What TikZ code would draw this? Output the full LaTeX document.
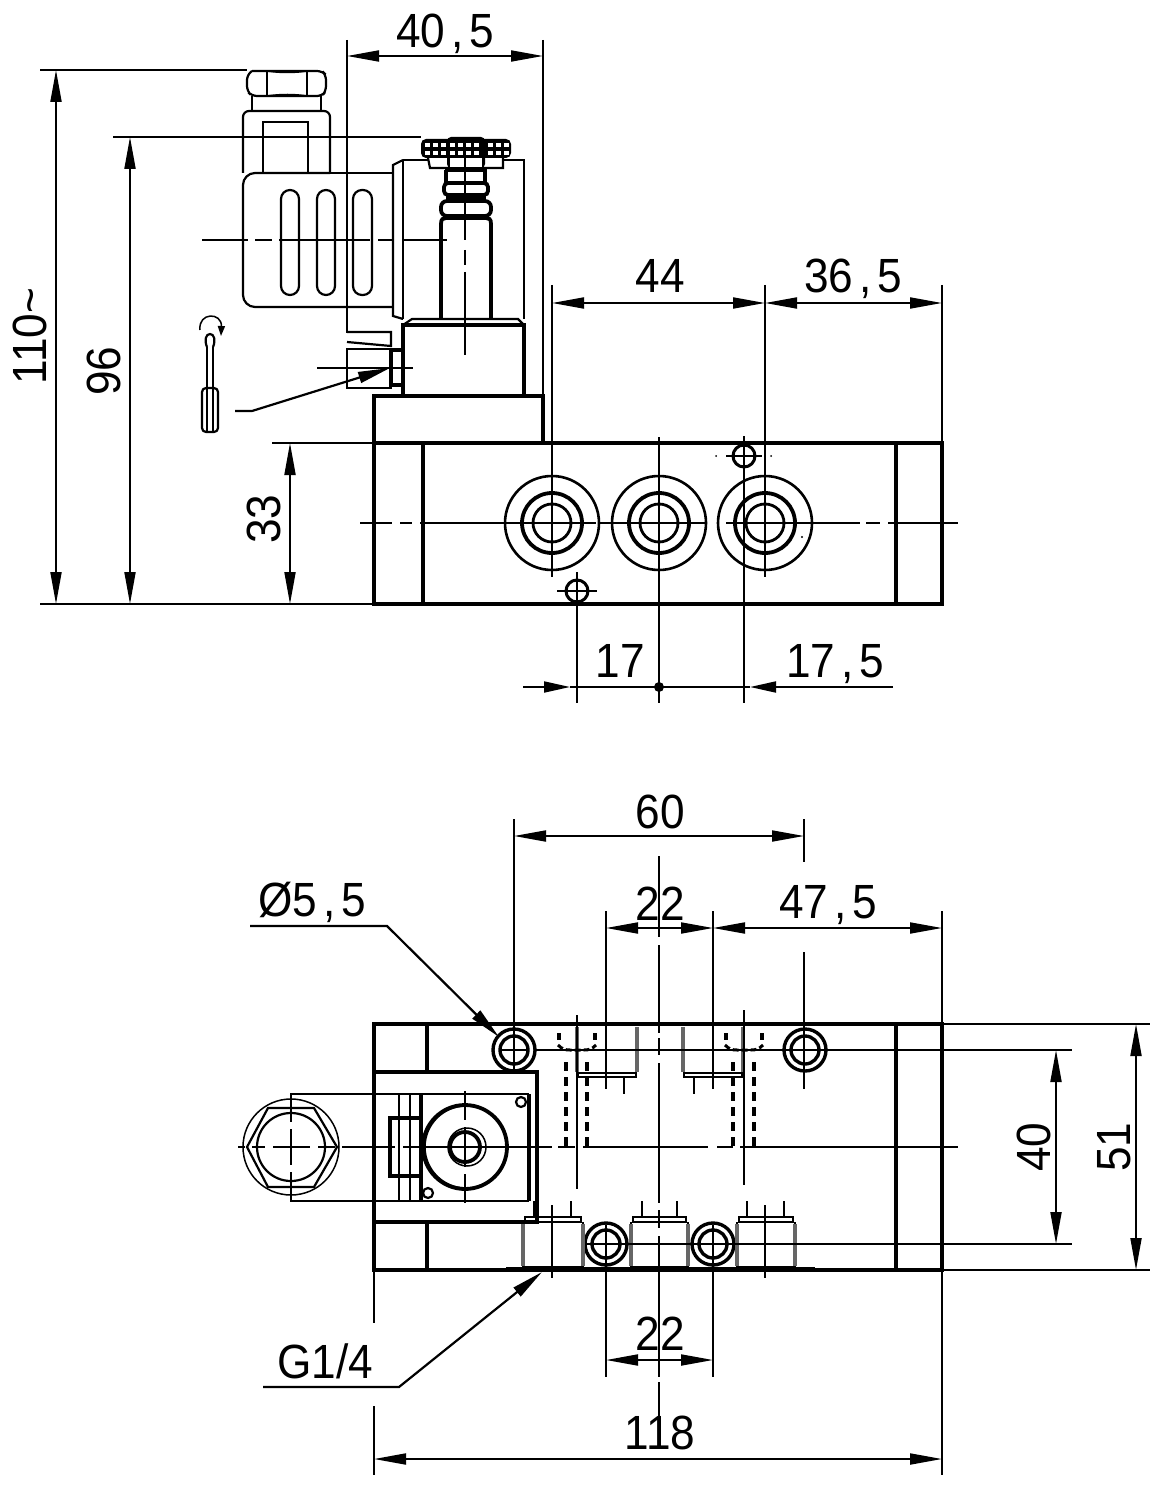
\documentclass[tikz,border=0pt]{standalone}
\usepackage{fontspec}
\setmainfont[FakeStretch=0.92]{Liberation Sans}
\usetikzlibrary{arrows.meta}
\tikzset{
 thk/.style={line width=1.9pt,line join=miter},
 med/.style={line width=1.1pt},
 thn/.style={line width=0.75pt},
 dimln/.style={line width=0.95pt},
 ctr/.style={line width=0.85pt},
 dsh/.style={line width=1.9pt,dash pattern=on 4.5pt off 3pt},
 gry/.style={line width=1.6pt,black!60},
 lbl/.style={inner sep=0pt,anchor=base,font=\fontsize{24pt}{24pt}\selectfont},
 >={Triangle[length=16pt,width=5.5pt]},
 sm/.style={>={Triangle[length=13pt,width=5.5pt]}}
}
\newcommand{\cmm}{\kern3pt,\kern3pt}
\begin{document}
\begin{tikzpicture}[x=0.5pt,y=-0.5pt]
\useasboundingbox (0,0) rectangle (1164,1492);
%% ---------- FRONT VIEW ----------
% body
\draw[thk] (374,443) rectangle (942,604);
\draw[thk] (423,443) -- (423,604) (896,443) -- (896,604);
\draw[thk] (374,443) -- (374,396) -- (543,396) -- (543,443);
% solenoid base
\draw[thk] (403,396) -- (403,325) -- (524,325) -- (524,396);
\draw[med] (403,325) -- (412,319) -- (518,319) -- (524,325);
% coil
\draw[med] (403,319) -- (403,160) (403,160) -- (524,160) -- (524,319);
\draw[med] (403,160) -- (393,165) -- (393,316) -- (403,319);
% tube
\draw[thk] (441,319) -- (441,224) .. controls (441,219) and (443,218) .. (446,218) -- (486,218) .. controls (489,218) and (491,219) .. (491,224) -- (491,319);
\draw[thk,rounded corners=3pt,fill=white] (441,201) rectangle (491,216);
\draw[thk,rounded corners=2pt,fill=white] (444,183) rectangle (488,195);
\draw[thk] (446,195) -- (486,195) (446,198) -- (486,198);
\draw[thk] (446,183) -- (446,170) (485,183) -- (485,170);
% knob
\draw[med,fill=white] (428,158) -- (430,168) -- (503,168) -- (503,158);
\draw[thk] (447,168) -- (447,170) (485,168) -- (485,170) (447,170) -- (485,170);
\fill[black,rounded corners=2.5pt] (421,139) rectangle (511,158);
\fill[black,rounded corners=2pt] (447,137) rectangle (485,168);
\fill[white] (450,158) rectangle (482,167);
\foreach \xx in {425,433,441,450,458,466,474,488,496,504}
  \foreach \yy in {143,151} {\fill[white] (\xx,\yy) rectangle +(5,4.5);}
% connector
\draw[med,rounded corners=6pt] (330,173) -- (243,173) -- (243,307) -- (393,307);
\draw[med] (330,173) -- (393,173);
\draw[med,rounded corners=3pt] (243,173) -- (243,111) -- (330,111) -- (330,173);
\draw[med] (263,173) -- (263,122) -- (308,122) -- (308,173);
\draw[med] (252,111) -- (252,96) (321,111) -- (321,96);
\draw[med,rounded corners=2.5pt] (252,71) -- (322,71) -- (326,75) -- (326,91) -- (322,96) -- (252,96) -- (247,91) -- (247,75) -- (252,71);
\draw[med] (267,71) -- (267,96) (307,71) -- (307,96);
\draw[thn] (267,71) .. controls (280,73) and (295,73) .. (307,71);
\draw[thn] (267,96) .. controls (280,94) and (295,94) .. (307,96);
\foreach \xa/\xb in {281/299,317/335,353/372}
  \draw[med,rounded corners=4.5pt] (\xa,190) rectangle (\xb,295);
% set screw
\draw[med] (347,332) -- (391,332) -- (391,346) -- (347,342);
\draw[med] (347,349) rectangle (391,388);
\draw[thk] (391,350) rectangle (403,385);
% center lines
\draw[ctr] (202,240) -- (248,240) (255,240) -- (272,240) (279,240) -- (370,240) (378,240) -- (392,240) (402,240) -- (447,240);
\draw[ctr] (465,140) -- (465,240) (465,250) -- (465,265) (465,272) -- (465,355);
\draw[ctr] (317,368) -- (413,368);
% screwdriver
\draw[med,rounded corners=2pt] (202,388) rectangle (218,432);
\draw[thn] (207,388) -- (207,432) (213,388) -- (213,432);
\draw[med] (207,388) -- (207,347) (213,388) -- (213,347);
\draw[med] (207,347) .. controls (204,340) and (206,334) .. (210,334) .. controls (214,334) and (216,340) .. (213,347);
\draw[thn,-{Triangle[length=5pt,width=3.5pt]}] (200,330) .. controls (198,312) and (222,312) .. (221,336);
\draw[med,->] (235,411) -- (252,411) -- (390,368);
% holes
\foreach \xx in {552,659,765} {
  \draw[line width=1.3pt] (\xx,523) circle (47);
  \draw[line width=1.9pt] (\xx,523) circle (30);
  \draw[line width=1.4pt] (\xx,523) circle (19);
}
\draw[line width=1.5pt] (577,591) circle (11);
\draw[line width=1.5pt] (744,456) circle (11);
\draw[ctr] (557,591) -- (597,591) (577,572) -- (577,703);
\draw[ctr] (726,456) -- (762,456) (744,436) -- (744,703);
\fill (716,456) circle (1) (771,456) circle (1);
\fill (802,537) circle (1.2);
\draw[ctr] (360,523) -- (392,523) (400,523) -- (412,523) (420,523) -- (596,523) (600,523) -- (706,523) (726,523) -- (860,523) (866,523) -- (880,523) (888,523) -- (958,523);
\draw[med] (552,285) -- (552,477);
\draw[ctr] (552,477) -- (552,577);
\draw[med] (659,437) -- (659,687);
\draw[ctr] (659,687) -- (659,703);
\draw[ctr] (765,285) -- (765,577);
\draw[ctr] (942,285) -- (942,443);
% dimensions front
\draw[dimln] (347,40) -- (347,333);
\draw[dimln] (543,40) -- (543,396);
\draw[dimln,<->] (347,56) -- (543,56);
\draw[dimln,<->] (552,303) -- (765,303);
\draw[dimln,<->] (765,303) -- (942,303);
\draw[dimln] (40,70) -- (247,70) (113,137) -- (421,137) (272,443) -- (374,443) (40,604) -- (374,604);
\draw[dimln,<->] (56,70) -- (56,604);
\draw[dimln,<->] (130,137) -- (130,604);
\draw[dimln,<->] (290,443) -- (290,604);
\draw[dimln,sm,->] (523,687) -- (570,687);
\draw[dimln,sm,->] (893,687) -- (750,687);
\draw[dimln] (570,687) -- (750,687);
\fill (659,687) circle (5);
\node[lbl] (t405) at (445,48) {40\cmm 5};
\node[lbl] (t44) at (660,293) {44};
\node[lbl] (t365) at (853,293) {36\cmm 5};
\node[lbl,rotate=90] (t110) at (46,336) {110\textasciitilde};
\node[lbl,rotate=90] (t96) at (120,371) {96};
\node[lbl,rotate=90] (t33) at (280,519) {33};
\node[lbl] (t17) at (620,677) {17};
\node[lbl] (t175) at (835,677) {17\cmm 5};
%% ---------- TOP VIEW ----------
\draw[thk] (374,1024) rectangle (942,1270);
\draw[thk] (896,1024) -- (896,1270);
\draw[thk] (427,1024) -- (427,1072) (427,1222) -- (427,1270);
% mounting holes
\foreach \xx/\yy in {514/1050,805/1050,606/1244,713/1244} {
  \draw[line width=1.7pt,fill=white] (\xx,\yy) circle (21);
  \draw[line width=1.7pt] (\xx,\yy) circle (14);
}
% solenoid plate
\draw[thk,fill=white] (374,1072) rectangle (537,1222);
\draw[med] (290,1094) -- (529,1094) (290,1201) -- (529,1201);
\draw[thk] (529,1094) -- (529,1201);
\draw[thk] (421,1094) -- (421,1201);
\draw[thn] (399,1094) -- (399,1201) (410,1094) -- (410,1201);
\draw[thk] (390,1118) rectangle (421,1176);
\draw[line width=1.9pt] (465,1147) circle (42);
\draw[thn] (466,1147) circle (41);
\draw[line width=1.9pt] (465,1147) circle (15);
\draw[thn] (467,1147) circle (19);
\draw[med,fill=white] (521,1102) circle (5);
\draw[med,fill=white] (428,1193) circle (5);
% connector nut
\draw[thn] (291,1147) circle (48);
\draw[med] (291,1147) circle (34);
\draw[med] (247,1147) -- (268,1108) -- (314,1108) -- (337,1147) -- (314,1187) -- (268,1187) -- cycle;
\draw[ctr] (291,1094) -- (291,1122) (291,1129) -- (291,1165) (291,1172) -- (291,1201);
\draw[ctr] (465,1091) -- (465,1120) (465,1127) -- (465,1167) (465,1174) -- (465,1203);
% center line
\draw[ctr] (238,1147) -- (245,1147) (252,1147) -- (265,1147) (273,1147) -- (310,1147) (318,1147) -- (335,1147) (342,1147) -- (395,1147) (403,1147) -- (552,1147) (558,1147) -- (575,1147) (583,1147) -- (708,1147) (717,1147) -- (733,1147) (740,1147) -- (958,1147);
% top ports
\foreach \xa/\xb in {577/637,683/743} {
  \draw[gry] (\xa,1027) -- (\xa,1072) (\xb,1027) -- (\xb,1072);
  \draw[med] (\xa,1073) -- (\xb,1073);
  \draw[med] (\xa+1,1073) -- (\xa+1,1077) -- (\xb-1,1077) -- (\xb-1,1073);
}
\draw[ctr] (624,1077) -- (624,1094) (694,1077) -- (694,1094);
\foreach \xo in {0,167} {
  \draw[dsh] ({559+\xo},1033) -- ({559+\xo},1040) ({595+\xo},1033) -- ({595+\xo},1040);
  \draw[line width=1.5pt,dash pattern=on 3pt off 1.5pt] ({558+\xo},1045) .. controls ({562+\xo},1049) and ({565+\xo},1050) .. ({570+\xo},1050) -- ({584+\xo},1050) .. controls ({589+\xo},1050) and ({592+\xo},1049) .. ({596+\xo},1045);
  \draw[dsh] ({566+\xo},1062) -- ({566+\xo},1147) ({587+\xo},1062) -- ({587+\xo},1147);
}
% bottom ports
\foreach \xa/\xb in {523/583,631/688,737/795} {
  \draw[med] (\xa,1222) -- (\xa,1267) -- (\xb,1267) -- (\xb,1222);
  \draw[gry] (\xb,1224) -- (\xb,1266) (\xa,1224) -- (\xa,1266);
  \draw[med] (\xa+2,1222) -- (\xa+2,1217) -- (\xb-2,1217) -- (\xb-2,1222) -- cycle;
}
\draw[ctr] (534,1201) -- (534,1217) (571,1201) -- (571,1217) (642,1201) -- (642,1217) (677,1201) -- (677,1217) (747,1201) -- (747,1217) (784,1201) -- (784,1217);
\draw[line width=1.4pt] (506,1268.5) -- (815,1268.5);
% axis and extension lines
\draw[ctr] (585,1244) -- (1072,1244);
\draw[ctr] (500,1050) -- (528,1050) (535,1050) -- (1072,1050);
\draw[ctr] (942,1024) -- (1150,1024) (942,1270) -- (1150,1270);
\draw[ctr] (514,819) -- (514,1071);
\draw[ctr] (804,819) -- (804,862) (804,952) -- (804,1089);
\draw[ctr] (606,911) -- (606,1089) (713,911) -- (713,1089);
\draw[ctr] (606,1225) -- (606,1377) (713,1225) -- (713,1377);
\draw[ctr] (659,856) -- (659,937) (659,945) -- (659,1033) (659,1038) -- (659,1055) (659,1063) -- (659,1203) (659,1210) -- (659,1228) (659,1236) -- (659,1377) (659,1382) -- (659,1448);
\draw[ctr] (577,1015) -- (577,1189) (744,1010) -- (744,1185);
\draw[ctr] (552,1205) -- (552,1278) (765,1205) -- (765,1278);
\draw[ctr] (942,911) -- (942,1024) (942,1270) -- (942,1475);
\draw[ctr] (374,1270) -- (374,1323) (374,1406) -- (374,1475);
% dimensions top view
\draw[dimln,<->] (514,836) -- (804,836);
\draw[dimln,<->] (606,928) -- (713,928);
\draw[dimln,<->] (713,928) -- (942,928);
\draw[dimln,<->] (606,1360) -- (713,1360);
\draw[dimln,<->] (374,1459) -- (942,1459);
\draw[dimln,<->] (1056,1050) -- (1056,1244);
\draw[dimln,<->] (1136,1024) -- (1136,1270);
\draw[med,->] (250,926) -- (387,926) -- (499,1037);
\draw[med,->] (263,1387) -- (399,1387) -- (542,1272);
\node[lbl] (t60) at (660,828) {60};
\node[lbl] (t22a) at (660,920) {22};
\node[lbl] (t475) at (828,918) {47\cmm 5};
\node[lbl] (t22b) at (660,1350) {22};
\node[lbl] (t118) at (660,1449) {118};
\node[lbl] (tphi) at (312,916) {Ø5\cmm 5};
\node[lbl] (tg) at (325,1378) {G1/4};
\node[lbl,rotate=90] (t40) at (1050,1147) {40};
\node[lbl,rotate=90] (t51) at (1130,1147) {51};
\end{tikzpicture}
\end{document}
